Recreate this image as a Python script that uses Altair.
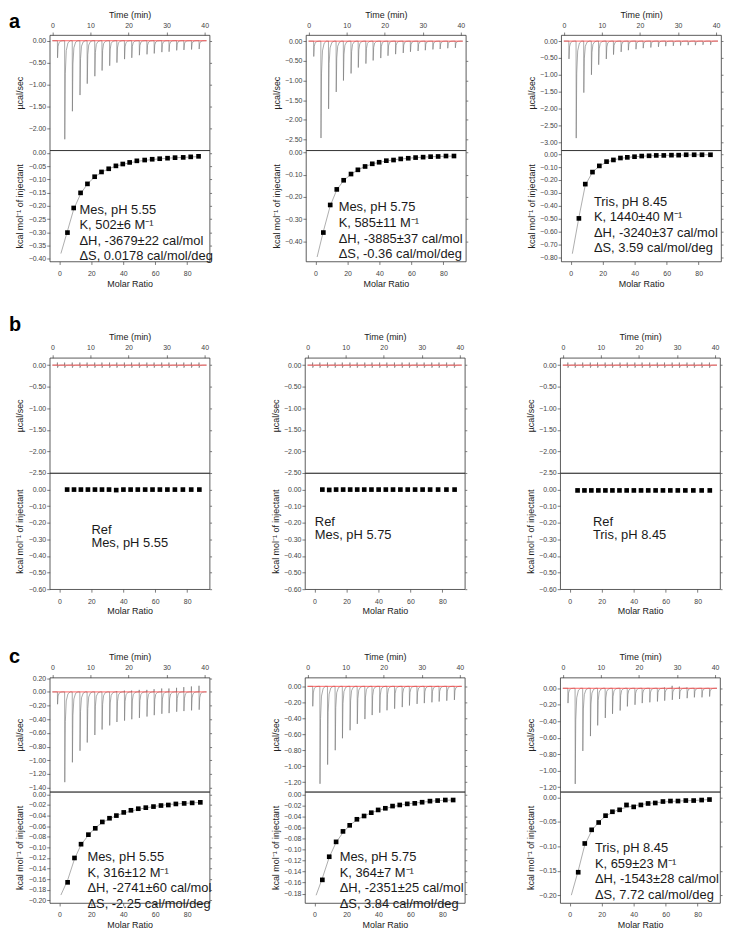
import altair as alt
import pandas as pd

FONT = "Liberation Sans"

# ---------------- shared data ----------------
INJ_TIME = [1.3, 3.2, 5.2, 7.2, 9.1, 11.1, 13.0, 15.0, 16.9, 18.9,
            20.8, 22.8, 24.8, 26.7, 28.7, 30.6, 32.6, 34.5, 36.5, 38.5]
TIME_END = 40.5
# spike profile: time offset, share of peak, share of upward blip
SPIKE_DT = [0.0, 0.02, 0.06, 0.2, 0.45, 0.9, 1.5]
SPIKE_FP = [0.0, 0.0, 1.0, 0.33, 0.1, 0.02, 0.0]
SPIKE_FU = [0.0, 1.0, 0.0, 0.0, 0.0, 0.0, 0.0]

TIME_TICKS = [0, 10, 20, 30, 40]
MR_TICKS = [0, 20, 40, 60, 80]
T_DOMAIN = [-0.7, 41.3]
MR_DOMAIN = [-6, 94]

# ---------------- row a ----------------
A1_PEAK = [-0.39, -2.25, -1.61, -1.24, -0.98, -0.81, -0.68, -0.57, -0.50, -0.42,
           -0.39, -0.33, -0.31, -0.29, -0.26, -0.25, -0.22, -0.21, -0.20, -0.19]
A2_PEAK = [-0.39, -2.46, -1.72, -1.29, -1.00, -0.82, -0.67, -0.57, -0.49, -0.43,
           -0.37, -0.33, -0.30, -0.27, -0.25, -0.23, -0.21, -0.20, -0.18, -0.17]
A3_PEAK = [-0.53, -2.88, -1.53, -1.00, -0.70, -0.53, -0.40, -0.32, -0.27, -0.24,
           -0.21, -0.19, -0.17, -0.15, -0.14, -0.13, -0.12, -0.12, -0.11, -0.11]
NO_UP = [0.0] * 20

A1_X = [5.1, 9.0, 13.3, 17.6, 22.1, 26.4, 30.9, 35.4, 39.7, 44.0, 48.5, 53.4, 58.1, 62.8, 67.7, 72.4, 77.5, 82.2, 87.1]
A1_Y = [-0.301, -0.208, -0.151, -0.117, -0.090, -0.072, -0.060, -0.049, -0.042, -0.036,
        -0.030, -0.027, -0.024, -0.022, -0.020, -0.018, -0.017, -0.015, -0.013]
A1_FIT_X = [1, 5.1, 9.0, 13.3, 17.6, 22.1, 26.4, 30.9, 35.4, 39.7, 48.5, 58.1, 67.7, 77.5, 87.1]
A1_FIT_Y = [-0.38, -0.295, -0.213, -0.155, -0.117, -0.091, -0.073, -0.060, -0.050, -0.043, -0.032, -0.025, -0.020, -0.017, -0.014]

A2_X = [4.9, 9.2, 13.3, 17.6, 22.2, 26.5, 31.0, 35.5, 39.8, 44.3, 48.8, 53.3, 58.0, 62.6, 67.3, 72.0, 76.7, 81.6, 86.6]
A2_Y = [-0.360, -0.236, -0.166, -0.125, -0.097, -0.078, -0.063, -0.051, -0.044, -0.037,
        -0.034, -0.029, -0.026, -0.023, -0.021, -0.019, -0.018, -0.016, -0.016]
A2_FIT_X = [1, 4.9, 9.2, 13.3, 17.6, 22.2, 26.5, 31.0, 35.5, 39.8, 48.8, 58.0, 67.3, 76.7, 86.6]
A2_FIT_Y = [-0.47, -0.355, -0.240, -0.168, -0.126, -0.098, -0.078, -0.063, -0.052, -0.044, -0.033, -0.026, -0.021, -0.018, -0.016]

A3_X = [5.1, 9.1, 13.6, 17.9, 22.4, 26.7, 31.1, 35.4, 39.9, 44.4, 49.0, 53.5, 58.2, 63.0, 67.5, 72.2, 77.2, 82.1, 87.4]
A3_Y = [-0.497, -0.232, -0.139, -0.091, -0.058, -0.045, -0.030, -0.025, -0.020, -0.015,
        -0.013, -0.010, -0.010, -0.008, -0.008, -0.005, -0.005, -0.005, -0.005]
A3_FIT_X = [1, 5.1, 9.1, 13.6, 17.9, 22.4, 26.7, 31.1, 35.4, 39.9, 49.0, 58.2, 67.5, 77.2, 87.4]
A3_FIT_Y = [-0.77, -0.49, -0.240, -0.140, -0.092, -0.062, -0.045, -0.033, -0.026, -0.020, -0.013, -0.010, -0.008, -0.006, -0.005]

# ---------------- row b ----------------
B_PEAK = [-0.06] * 20
B_UP = [0.06] * 20
B_X = [4.9, 9.2, 13.5, 17.9, 22.3, 26.7, 31.1, 35.6, 40.1, 44.6, 49.1, 53.7, 58.3, 62.9, 67.6, 72.3, 77.3, 82.5, 87.6]
B1_Y = [0.0, 0.0, 0.0, 0.0, 0.0, 0.0, 0.0, -0.003, 0.0, 0.0, 0.0, 0.0, 0.0, 0.0, 0.0, 0.0, 0.0, 0.0, 0.0]
B2_Y = [0.0, -0.002, 0.0, 0.0, 0.0, 0.0, 0.0, 0.0, 0.0, 0.0, 0.0, 0.0, 0.0, 0.0, 0.0, 0.0, 0.0, 0.0, 0.0]
B3_Y = [-0.005, -0.005, -0.005, -0.005, -0.005, -0.005, -0.005, -0.005, -0.005, -0.005,
        -0.005, -0.005, -0.005, -0.005, -0.005, -0.005, -0.005, -0.005, -0.005]

# ---------------- row c ----------------
C1_PEAK = [-0.18, -1.32, -1.03, -0.86, -0.74, -0.63, -0.55, -0.49, -0.44, -0.42,
           -0.40, -0.38, -0.36, -0.34, -0.32, -0.31, -0.29, -0.28, -0.27, -0.26]
C1_UP = [0.0, 0.0, 0.0, 0.0, 0.0, 0.0, 0.0, 0.0, 0.01, 0.02,
         0.02, 0.03, 0.03, 0.04, 0.05, 0.05, 0.06, 0.07, 0.08, 0.09]
C2_PEAK = [-0.25, -1.22, -0.98, -0.80, -0.65, -0.55, -0.47, -0.41, -0.36, -0.33,
           -0.30, -0.28, -0.26, -0.24, -0.22, -0.21, -0.20, -0.19, -0.18, -0.17]
C3_PEAK = [-0.18, -1.16, -0.76, -0.58, -0.45, -0.36, -0.31, -0.27, -0.22, -0.20,
           -0.18, -0.17, -0.16, -0.15, -0.14, -0.13, -0.12, -0.11, -0.11, -0.10]
C3_UP = [0.0, 0.0, 0.0, 0.0, 0.0, 0.0, 0.0, 0.0, 0.0, 0.0,
         0.0, 0.0, 0.0, 0.01, 0.03, 0.02, 0.01, 0.0, 0.0, 0.0]

C1_X = [5.2, 9.5, 13.6, 18.2, 22.5, 26.9, 31.4, 35.7, 40.3, 44.8, 49.4, 54.1, 58.9, 63.6, 68.2, 72.9, 78.1, 83.1, 88.2]
C1_Y = [-0.166, -0.120, -0.094, -0.076, -0.064, -0.052, -0.045, -0.040, -0.034, -0.030,
        -0.027, -0.025, -0.023, -0.021, -0.020, -0.018, -0.017, -0.016, -0.015]
C1_FIT_X = [1, 5.2, 9.5, 13.6, 18.2, 22.5, 26.9, 31.4, 35.7, 40.3, 49.4, 58.9, 68.2, 78.1, 88.2]
C1_FIT_Y = [-0.19, -0.162, -0.122, -0.095, -0.077, -0.063, -0.053, -0.046, -0.040, -0.035, -0.028, -0.023, -0.019, -0.017, -0.015]

C2_X = [4.9, 9.2, 13.5, 17.8, 22.0, 26.5, 31.0, 35.5, 39.8, 44.3, 48.8, 53.3, 58.0, 62.7, 67.3, 72.2, 77.0, 81.8, 86.7]
C2_Y = [-0.155, -0.113, -0.086, -0.067, -0.056, -0.045, -0.039, -0.033, -0.028, -0.025,
        -0.021, -0.019, -0.017, -0.016, -0.014, -0.012, -0.011, -0.010, -0.010]
C2_FIT_X = [1, 4.9, 9.2, 13.5, 17.8, 22.0, 26.5, 31.0, 35.5, 39.8, 48.8, 58.0, 67.3, 77.0, 86.7]
C2_FIT_Y = [-0.183, -0.152, -0.114, -0.087, -0.069, -0.056, -0.046, -0.039, -0.033, -0.029, -0.022, -0.017, -0.014, -0.011, -0.010]

C3_X = [5.3, 9.4, 13.7, 18.1, 22.4, 26.7, 31.2, 35.5, 40.0, 44.5, 49.0, 53.5, 58.3, 63.0, 67.7, 72.6, 77.5, 82.5, 87.4]
C3_Y = [-0.153, -0.094, -0.066, -0.051, -0.037, -0.029, -0.025, -0.015, -0.019, -0.015,
        -0.012, -0.011, -0.008, -0.007, -0.007, -0.006, -0.006, -0.005, -0.004]
C3_FIT_X = [1, 5.3, 9.4, 13.7, 18.1, 22.4, 26.7, 31.2, 35.5, 40.0, 49.0, 58.3, 67.7, 77.5, 87.4]
C3_FIT_Y = [-0.20, -0.150, -0.097, -0.068, -0.050, -0.038, -0.030, -0.024, -0.020, -0.017, -0.012, -0.009, -0.007, -0.006, -0.004]

# ---------------- annotations ----------------
A1_TXT = ["Mes, pH 5.55", "K, 502±6 M⁻¹", "ΔH, -3679±22 cal/mol", "ΔS, 0.0178 cal/mol/deg"]
A2_TXT = ["Mes, pH 5.75", "K, 585±11 M⁻¹", "ΔH, -3885±37 cal/mol", "ΔS, -0.36 cal/mol/deg"]
A3_TXT = ["Tris, pH 8.45", "K, 1440±40 M⁻¹", "ΔH, -3240±37 cal/mol", "ΔS, 3.59 cal/mol/deg"]
B1_TXT = ["Ref", "Mes, pH 5.55"]
B2_TXT = ["Ref", "Mes, pH 5.75"]
B3_TXT = ["Ref", "Tris, pH 8.45"]
C1_TXT = ["Mes, pH 5.55", "K, 316±12 M⁻¹", "ΔH, -2741±60 cal/mol", "ΔS, -2.25 cal/mol/deg"]
C2_TXT = ["Mes, pH 5.75", "K, 364±7 M⁻¹", "ΔH, -2351±25 cal/mol", "ΔS, 3.84 cal/mol/deg"]
C3_TXT = ["Tris, pH 8.45", "K, 659±23 M⁻¹", "ΔH, -1543±28 cal/mol", "ΔS, 7.72 cal/mol/deg"]

# ---------------- axis ticks / domains ----------------
TOP_T_A1 = [0, -0.5, -1.0, -1.5, -2.0]
TOP_T_A2 = [0, -0.5, -1.0, -1.5, -2.0, -2.5]
TOP_T_A3 = [0, -0.5, -1.0, -1.5, -2.0, -2.5, -3.0]
TOP_T_B = [0, -0.5, -1.0, -1.5, -2.0, -2.5]
TOP_T_C1 = [0.2, 0, -0.2, -0.4, -0.6, -0.8, -1.0, -1.2, -1.4]
TOP_T_C2 = [0, -0.2, -0.4, -0.6, -0.8, -1.0, -1.2]
TOP_T_C3 = [0, -0.2, -0.4, -0.6, -0.8, -1.0, -1.2]
BOT_T_A1 = [0, -0.05, -0.10, -0.15, -0.20, -0.25, -0.30, -0.35, -0.40]
BOT_T_A2 = [0, -0.1, -0.2, -0.3, -0.4]
BOT_T_A3 = [0, -0.1, -0.2, -0.3, -0.4, -0.5, -0.6, -0.7, -0.8]
BOT_T_B = [0, -0.1, -0.2, -0.3, -0.4, -0.5, -0.6]
BOT_T_C1 = [0, -0.02, -0.04, -0.06, -0.08, -0.10, -0.12, -0.14, -0.16, -0.18, -0.20]
BOT_T_C2 = [0, -0.02, -0.04, -0.06, -0.08, -0.10, -0.12, -0.14, -0.16, -0.18]
BOT_T_C3 = [0, -0.05, -0.10, -0.15, -0.20]

W = 161
YEXT = 23
GRAY = "#444444"


def thermo_df(peaks, ups):
    rows = [(0.0, 0.0)]
    for t0, pk, up in zip(INJ_TIME, peaks, ups):
        for dt, fp, fu in zip(SPIKE_DT, SPIKE_FP, SPIKE_FU):
            rows.append((t0 + dt, fp * pk + fu * up))
    rows.append((TIME_END, 0.0))
    return pd.DataFrame(rows, columns=["t", "v"])


def yaxis(title, ticks):
    return alt.Axis(title=title, values=ticks, format=".2f", minExtent=YEXT, maxExtent=YEXT,
                    labelOverlap=False, labelPadding=1, titlePadding=2)


def right_axis(ticks):
    return alt.Axis(orient="right", values=ticks, labels=False, title="",
                    minExtent=0, maxExtent=3, tickSize=2)


def top_chart(p):
    xs = alt.Scale(domain=T_DOMAIN, nice=False, zero=False)
    ys = alt.Scale(domain=p["top_dom"], nice=False, zero=False)
    xax = alt.Axis(orient="top", title="Time (min)", values=TIME_TICKS, format="d",
                   labelPadding=4, titlePadding=2, labelOverlap=False)
    yax = yaxis("µcal/sec", p["top_ticks"])
    base_df = pd.DataFrame({"t": [0.0, TIME_END], "v": [0.0, 0.0]})
    trace = alt.Chart(thermo_df(p["peak"], p["up"])).mark_line(
        color="#707070", strokeWidth=0.6).encode(
        x=alt.X("t:Q", scale=xs, axis=xax), y=alt.Y("v:Q", scale=ys, axis=yax))
    base = alt.Chart(base_df).mark_line(
        color="#ff3b3b", strokeWidth=0.8).encode(
        x=alt.X("t:Q", scale=xs, axis=xax), y=alt.Y("v:Q", scale=ys, axis=yax))
    letter = alt.Chart(pd.DataFrame({"k": [0]})).mark_text(
        text=p["letter"], font=FONT, fontSize=20, fontWeight="bold", align="left",
        baseline="alphabetic", color="black", opacity=1 if p["show"] else 0).encode(
        x=alt.value(-41), y=alt.value(p["letter_y"]))
    right = alt.Chart(base_df).mark_line(opacity=0).encode(
        x=alt.X("t:Q", scale=xs, axis=xax),
        y=alt.Y("v:Q", scale=ys, axis=right_axis(p["top_ticks"])))
    return alt.layer(alt.layer(trace, base, letter), right).resolve_scale(
        y="independent").properties(width=W, height=p["top_h"])


def bottom_chart(p):
    xs = alt.Scale(domain=MR_DOMAIN, nice=False, zero=False)
    ys = alt.Scale(domain=p["bot_dom"], nice=False, zero=False)
    xax = alt.Axis(orient="bottom", title="Molar Ratio", values=MR_TICKS, format="d",
                   labelPadding=5, titlePadding=3, labelOverlap=False)
    yax = yaxis("kcal mol⁻¹ of injectant", p["bot_ticks"])
    pts_df = pd.DataFrame({"x": p["x"], "y": p["y"]})
    layers = []
    if p.get("fit_x"):
        layers.append(alt.Chart(pd.DataFrame({"x": p["fit_x"], "y": p["fit_y"]})).mark_line(
            color="#8a8a8a", strokeWidth=0.7).encode(
            x=alt.X("x:Q", scale=xs, axis=xax), y=alt.Y("y:Q", scale=ys, axis=yax)))
    layers.append(alt.Chart(pts_df).mark_square(
        size=22, color="black", opacity=1).encode(
        x=alt.X("x:Q", scale=xs, axis=xax), y=alt.Y("y:Q", scale=ys, axis=yax)))
    layers.append(alt.Chart(pd.DataFrame({"k": [0]})).mark_text(
        font=FONT, fontSize=13, align="left", baseline="top", color="#1a1a1a",
        lineHeight=p["lh"]).encode(
        x=alt.value(p["tx"]), y=alt.value(p["ty"]), text=alt.value(p["txt"])))
    right = alt.Chart(pts_df).mark_point(opacity=0).encode(
        x=alt.X("x:Q", scale=xs, axis=xax),
        y=alt.Y("y:Q", scale=ys, axis=right_axis(p["bot_ticks"])))
    return alt.layer(alt.layer(*layers), right).resolve_scale(
        y="independent").properties(width=W, height=p["bot_h"])


def panel(p):
    return alt.vconcat(top_chart(p), bottom_chart(p), spacing=0, bounds="flush")


PANELS = {
    "a1": dict(letter="a", show=True, letter_y=-7, peak=A1_PEAK, up=NO_UP,
               top_dom=[-2.5, 0.13], top_ticks=TOP_T_A1, bot_dom=[-0.41, 0.01], bot_ticks=BOT_T_A1,
               x=A1_X, y=A1_Y, fit_x=A1_FIT_X, fit_y=A1_FIT_Y, txt=A1_TXT, tx=30, ty=54, lh=15.6),
    "a2": dict(letter="a", show=False, letter_y=-7, peak=A2_PEAK, up=NO_UP,
               top_dom=[-2.77, 0.155], top_ticks=TOP_T_A2, bot_dom=[-0.49, 0.01], bot_ticks=BOT_T_A2,
               x=A2_X, y=A2_Y, fit_x=A2_FIT_X, fit_y=A2_FIT_Y, txt=A2_TXT, tx=33, ty=51, lh=16),
    "a3": dict(letter="a", show=False, letter_y=-7, peak=A3_PEAK, up=NO_UP,
               top_dom=[-3.24, 0.18], top_ticks=TOP_T_A3, bot_dom=[-0.83, 0.03], bot_ticks=BOT_T_A3,
               x=A3_X, y=A3_Y, fit_x=A3_FIT_X, fit_y=A3_FIT_Y, txt=A3_TXT, tx=33, ty=46, lh=15.6),
    "b1": dict(letter="b", show=True, letter_y=-27, peak=B_PEAK, up=B_UP,
               top_dom=[-2.5, 0.17], top_ticks=TOP_T_B, bot_dom=[-0.60, 0.10], bot_ticks=BOT_T_B,
               x=B_X, y=B1_Y, txt=B1_TXT, tx=42, ty=51, lh=13.5),
    "b2": dict(letter="b", show=False, letter_y=-27, peak=B_PEAK, up=B_UP,
               top_dom=[-2.5, 0.17], top_ticks=TOP_T_B, bot_dom=[-0.60, 0.10], bot_ticks=BOT_T_B,
               x=B_X, y=B2_Y, txt=B2_TXT, tx=10, ty=43, lh=13.5),
    "b3": dict(letter="b", show=False, letter_y=-27, peak=B_PEAK, up=B_UP,
               top_dom=[-2.5, 0.17], top_ticks=TOP_T_B, bot_dom=[-0.60, 0.10], bot_ticks=BOT_T_B,
               x=B_X, y=B3_Y, txt=B3_TXT, tx=33, ty=43, lh=13.5),
    "c1": dict(letter="c", show=True, letter_y=-15, peak=C1_PEAK, up=C1_UP,
               top_dom=[-1.46, 0.21], top_ticks=TOP_T_C1, bot_dom=[-0.205, 0.005], bot_ticks=BOT_T_C1,
               x=C1_X, y=C1_Y, fit_x=C1_FIT_X, fit_y=C1_FIT_Y, txt=C1_TXT, tx=38, ty=60, lh=15.7),
    "c2": dict(letter="c", show=False, letter_y=-15, peak=C2_PEAK, up=NO_UP,
               top_dom=[-1.32, 0.11], top_ticks=TOP_T_C2, bot_dom=[-0.197, 0.005], bot_ticks=BOT_T_C2,
               x=C2_X, y=C2_Y, fit_x=C2_FIT_X, fit_y=C2_FIT_Y, txt=C2_TXT, tx=35, ty=60, lh=15.7),
    "c3": dict(letter="c", show=False, letter_y=-15, peak=C3_PEAK, up=C3_UP,
               top_dom=[-1.255, 0.13], top_ticks=TOP_T_C3, bot_dom=[-0.216, 0.012], bot_ticks=BOT_T_C3,
               x=C3_X, y=C3_Y, fit_x=C3_FIT_X, fit_y=C3_FIT_Y, txt=C3_TXT, tx=35, ty=51, lh=15.6),
}
ROW_H = {"a": (116, 112), "b": (116, 117), "c": (115, 112)}
for k, p in PANELS.items():
    p["top_h"], p["bot_h"] = ROW_H[k[0]]

HS = 51


def row(r):
    return alt.hconcat(*[panel(PANELS[f"{r}{i}"]) for i in (1, 2, 3)], spacing=HS)


chart = alt.vconcat(
    alt.vconcat(row("a"), row("b"), spacing=25),
    row("c"), spacing=29,
).properties(
    padding={"top": -2, "left": 0, "right": 0, "bottom": 0}
).configure_view(
    stroke="#333333", strokeWidth=0.8
).configure_axis(
    labelFont=FONT, titleFont=FONT, labelFontSize=7, titleFontSize=9,
    titleFontWeight="normal", labelColor=GRAY, titleColor="#222222",
    tickColor=GRAY, tickSize=3, tickWidth=0.7,
    grid=False, domain=False,
)

chart.save("out.html", embed_options={"renderer": "svg", "actions": False})
